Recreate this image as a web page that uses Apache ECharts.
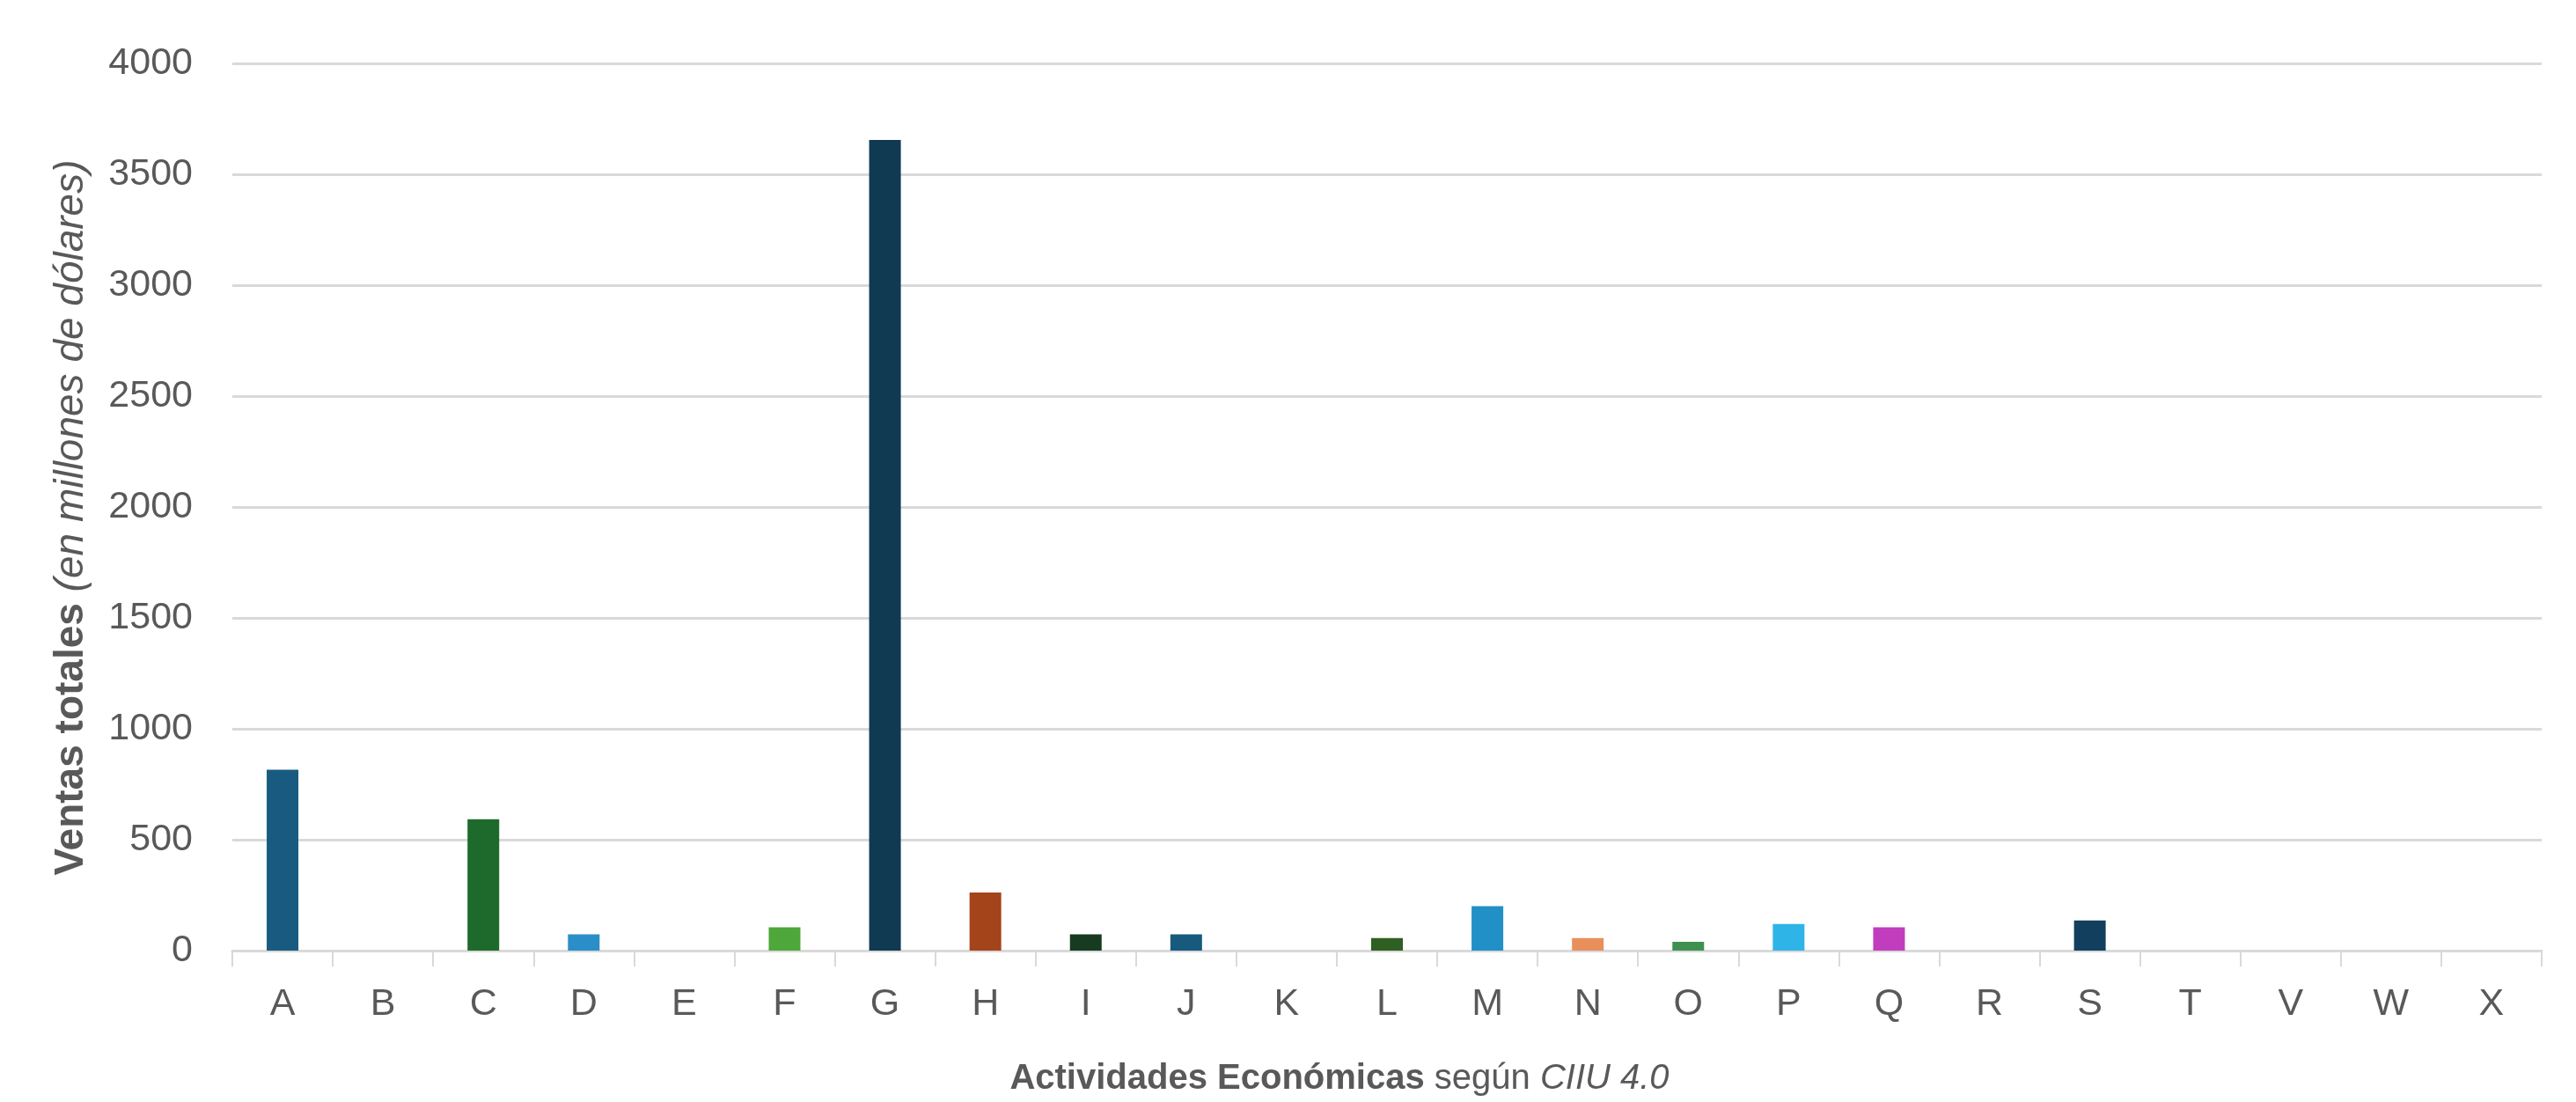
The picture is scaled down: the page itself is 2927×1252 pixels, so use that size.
<!DOCTYPE html>
<html>
<head>
<meta charset="utf-8">
<script src="https://cdn.jsdelivr.net/npm/echarts@6/dist/echarts.min.js"></script>
<style>
html,body{margin:0;padding:0;background:#fff;}
#chart{width:2927px;height:1252px;}
</style>
</head>
<body>
<div id="chart"></div>
<script>
const categories = ['A','B','C','D','E','F','G','H','I','J','K','L','M','N','O','P','Q','R','S','T','V','W','X'];
const ventas = [815,0,592,73,0,105,3655,262,73,73,0,57,200,57,40,120,105,0,136,0,0,0,0];
const yTicks = [0,500,1000,1500,2000,2500,3000,3500,4000];
const barColors = ['#195b80','#195b80','#1e6a2c','#2a8fc8','#2a8fc8','#4ea73a','#0f3a51','#a3441a','#173b20','#185a7e','#185a7e','#2f5f22','#2190c6','#e98f5c','#3f9150','#2fb4e8','#c13dbd','#c13dbd','#123f5d','#123f5d','#123f5d','#123f5d','#123f5d'];

const chart = echarts.init(document.getElementById('chart'), null, {renderer:'canvas', devicePixelRatio:1});
const gray = '#595959';
const font = 'Liberation Sans, Arial, sans-serif';

chart.setOption({
  animation:false,
  backgroundColor:'#ffffff',
  grid:{left:264, right:39, top:72, bottom:1252-1080, containLabel:false},
  xAxis:{
    type:'category',
    data:categories,
    boundaryGap:true,
    axisLine:{show:true, lineStyle:{color:'#d9d9d9', width:3}},
    axisTick:{show:true, length:18, alignWithLabel:false, lineStyle:{color:'#d9d9d9', width:2}},
    axisLabel:{interval:0, color:gray, fontSize:43, fontFamily:font, margin:40},
    splitLine:{show:false}
  },
  yAxis:{
    type:'value',
    min:yTicks[0], max:yTicks[yTicks.length-1], interval:500,
    axisLine:{show:false},
    axisTick:{show:false},
    axisLabel:{color:gray, fontSize:43, fontFamily:font, margin:45, formatter:function(v){return String(v);}},
    splitLine:{show:true, lineStyle:{color:'#d9d9d9', width:3}},
    name:'{b|Ventas totales }{i|(en millones de dólares)}',
    nameLocation:'middle',
    nameGap:160,
    nameTextStyle:{
      color:gray,
      padding:[0,24,0,0],
      rich:{
        b:{fontFamily:font, fontWeight:'bold', fontSize:46, color:gray},
        i:{fontFamily:font, fontStyle:'italic', fontSize:46, color:gray}
      }
    }
  },
  graphic:[{
    type:'text',
    x:1522, y:1226,
    style:{
      text:'{b|Actividades Económicas }{n|según }{i|CIIU 4.0}',
      align:'center', verticalAlign:'middle',
      fill:gray,
      rich:{
        b:{fontFamily:font, fontWeight:'bold', fontSize:40, fill:gray},
        n:{fontFamily:font, fontSize:40, fill:gray},
        i:{fontFamily:font, fontStyle:'italic', fontSize:40, fill:gray}
      }
    }
  }],
  series:[{
    type:'bar',
    barWidth:36,
    data:ventas.map((v,i)=>({value:v, itemStyle:{color:barColors[i]}}))
  }]
});
</script>
</body>
</html>
